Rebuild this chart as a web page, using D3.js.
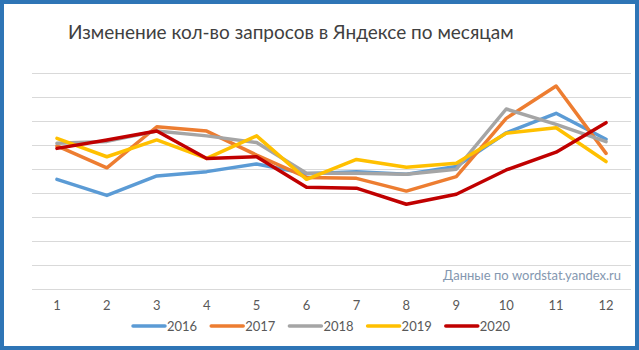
<!DOCTYPE html>
<html>
<head>
<meta charset="utf-8">
<script src="https://cdn.jsdelivr.net/npm/d3@7"></script>
<style>
  html, body { margin: 0; padding: 0; background: #fff; }
  svg { display: block; font-family: "Lato", "Open Sans", sans-serif; }
</style>
</head>
<body>
<svg id="chart" width="639" height="350"></svg>
<script>
// data (arbitrary units, gridline = 1)
const months = [1, 2, 3, 4, 5, 6, 7, 8, 9, 10, 11, 12];
const years = ["2016", "2017", "2018", "2019", "2020"];
const colors = ["#5b9bd5", "#ed7d31", "#a5a5a5", "#ffc000", "#c00000"];

const s2016 = [4.57, 3.90, 4.71, 4.89, 5.21, 4.80, 4.89, 4.78, 5.10, 6.51, 7.32, 6.24];
const s2017 = [5.96, 5.05, 6.76, 6.58, 5.58, 4.65, 4.61, 4.08, 4.68, 7.11, 8.46, 5.65];
const s2018 = [6.07, 6.15, 6.58, 6.38, 6.10, 4.82, 4.82, 4.78, 4.99, 7.50, 6.86, 6.14];
const s2019 = [6.28, 5.51, 6.21, 5.44, 6.38, 4.57, 5.40, 5.07, 5.24, 6.49, 6.72, 5.31];
const s2020 = [5.86, 6.21, 6.58, 5.44, 5.51, 4.24, 4.20, 3.53, 3.95, 4.96, 5.70, 6.93];

const yTicks = d3.range(0, 10); // 0..9

const seriesList = [s2016, s2017, s2018, s2019, s2020].map((values, i) => ({
  name: years[i],
  color: colors[i],
  values: values.map((v, j) => ({ month: months[j], value: v }))
}));

const svg = d3.select("#chart");
const width = +svg.attr("width");
const height = +svg.attr("height");
const margin = { top: 73, right: 8, bottom: 61, left: 32 };

// ── frame
svg.append("rect")
  .attr("x", 2).attr("y", 2)
  .attr("width", width - 4).attr("height", height - 4)
  .attr("fill", "#fff")
  .attr("stroke", "#2e75b6")
  .attr("stroke-width", 4);

// ── scales
const x = d3.scaleBand()
  .domain(months)
  .range([margin.left, width - margin.right]);

const y = d3.scaleLinear()
  .domain([0, 9])
  .range([height - margin.bottom, margin.top]);

// ── gridlines
svg.append("g")
  .selectAll("line")
  .data(yTicks)
  .join("line")
  .attr("x1", margin.left)
  .attr("x2", width - margin.right)
  .attr("y1", d => Math.round(y(d)) + 0.5)
  .attr("y2", d => Math.round(y(d)) + 0.5)
  .attr("stroke", "#d9d9d9")
  .attr("stroke-width", 1);

// ── x axis labels
const xAxis = svg.append("g")
  .attr("transform", `translate(0, ${height - margin.bottom})`)
  .call(d3.axisBottom(x).tickSize(0).tickPadding(12));
xAxis.select(".domain").remove();
xAxis.selectAll("text")
  .attr("fill", "#595959")
  .attr("font-size", "13px")
  .attr("font-family", "Lato, sans-serif");

// ── lines
const line = d3.line()
  .x(d => x(d.month) + x.bandwidth() / 2)
  .y(d => y(d.value));

svg.append("g")
  .selectAll("path")
  .data(seriesList)
  .join("path")
  .attr("d", d => line(d.values))
  .attr("fill", "none")
  .attr("stroke", d => d.color)
  .attr("stroke-width", 3.5)
  .attr("stroke-linejoin", "round")
  .attr("stroke-linecap", "round");

// ── title
svg.append("text")
  .attr("x", 68)
  .attr("y", 39)
  .attr("font-size", "19px")
  .attr("fill", "#404040")
  .text("Изменение кол-во запросов в Яндексе по месяцам");

// ── source note
svg.append("text")
  .attr("x", 621)
  .attr("y", 280)
  .attr("text-anchor", "end")
  .attr("font-size", "13px")
  .attr("fill", "#8497b0")
  .text("Данные по wordstat.yandex.ru");

// ── legend
const legend = svg.append("g")
  .attr("transform", `translate(133, 326)`);

legend.selectAll("g")
  .data(seriesList)
  .join("g")
  .attr("transform", (d, i) => `translate(${i * 78.2}, 0)`)
  .each(function (d) {
    const g = d3.select(this);
    g.append("line")
      .attr("x1", 0).attr("x2", 32)
      .attr("y1", 0).attr("y2", 0)
      .attr("stroke", d.color)
      .attr("stroke-width", 3.5)
      .attr("stroke-linecap", "round");
    g.append("text")
      .attr("x", 34)
      .attr("y", 5)
      .attr("font-size", "13px")
      .attr("fill", "#595959")
      .text(d.name);
  });
</script>
</body>
</html>
